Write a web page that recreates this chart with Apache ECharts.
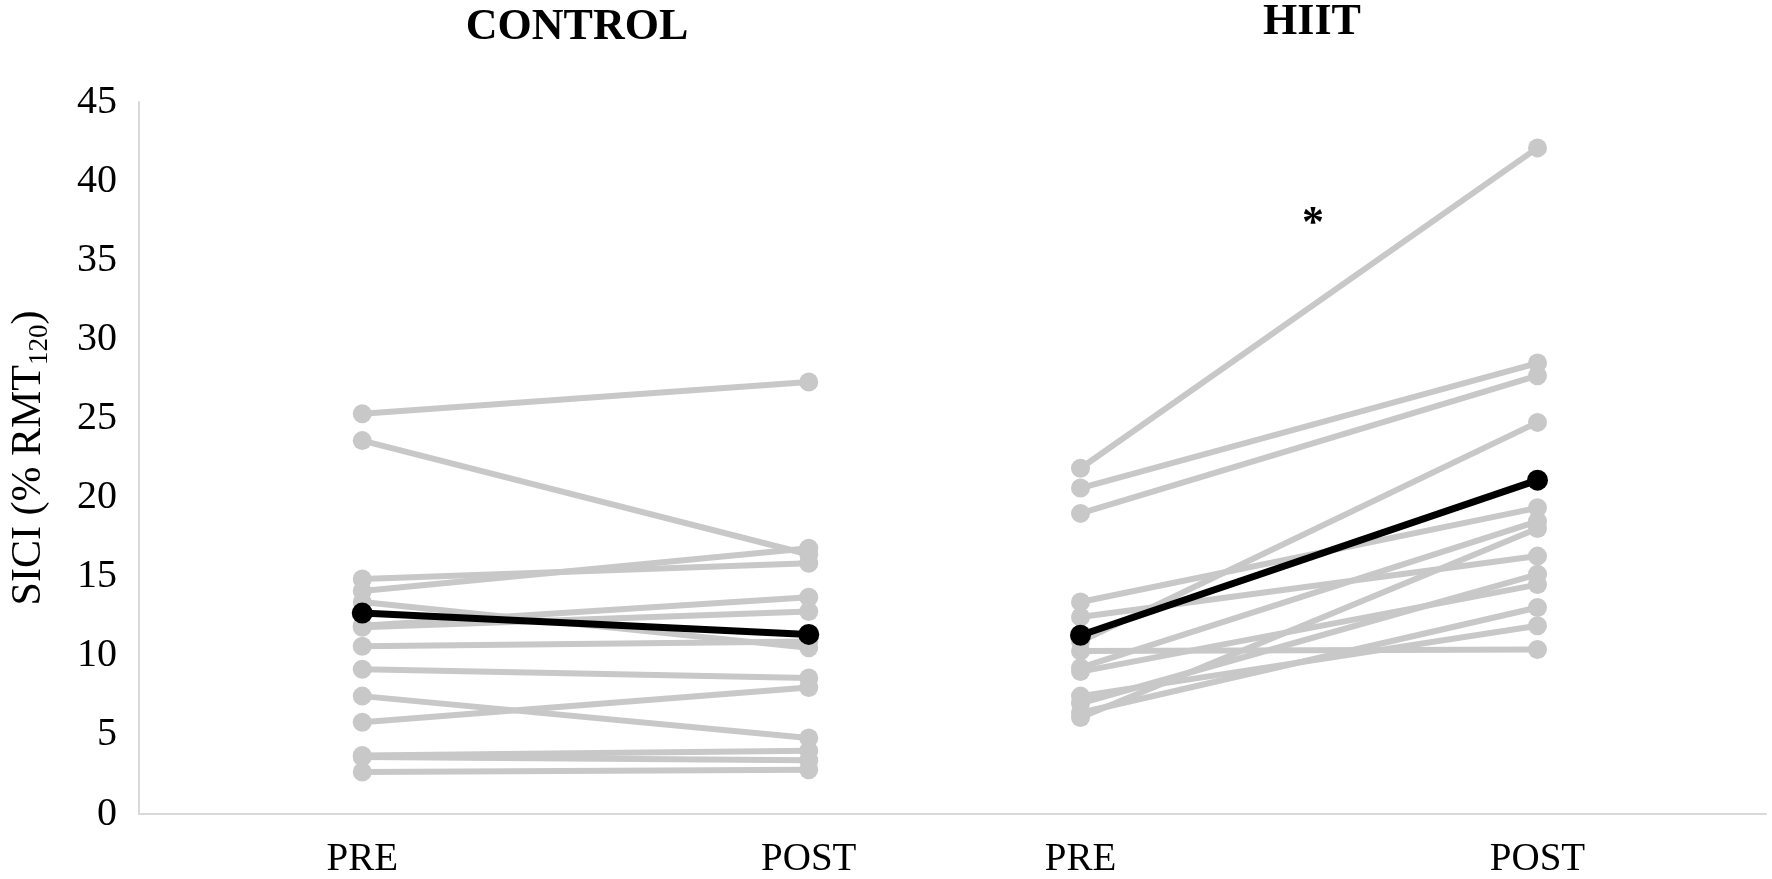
<!DOCTYPE html>
<html>
<head>
<meta charset="utf-8">
<script src="https://cdn.jsdelivr.net/npm/echarts@6/dist/echarts.min.js"></script>
<style>html,body{margin:0;padding:0;background:#fff}#c{width:1772px;height:879px}</style>
</head>
<body>
<div id="c"></div>
<script>
// ---- data ----
var phases = ['PRE', 'POST'];
var yTicks = [0, 5, 10, 15, 20, 25, 30, 35, 40, 45];
var controlPre  = [25.3, 23.6, 14.85, 14.1, 13.4, 11.9, 11.8, 10.6, 9.15, 7.45, 5.8, 3.7, 3.6, 2.65];
var controlPost = [27.3, 16.4, 15.85, 16.8, 10.5, 13.7, 12.8, 10.9, 8.6, 4.8, 8.0, 4.0, 3.4, 2.8];
var controlMean = [12.7, 11.35];
var hiitPre  = [21.85, 20.6, 19.0, 13.4, 12.45, 10.9, 10.3, 9.25, 9.0, 7.45, 7.0, 6.4, 6.1];
var hiitPost = [42.1, 28.5, 27.7, 19.35, 16.3, 24.75, 10.4, 18.5, 14.5, 11.9, 15.15, 13.05, 18.05];
var hiitMean = [11.3, 21.1];
var groupTitles = ['CONTROL', 'HIIT'];

var FONT = '"Liberation Serif", "Times New Roman", serif';
var GRAY = '#c8c8c8';
var AXIS = '#d9d9d9';

function indivSeries(pre, post, gi) {
  return pre.map(function (p, i) {
    return {
      type: 'line', xAxisIndex: gi, yAxisIndex: gi,
      data: [p, post[i]],
      symbol: 'circle', symbolSize: 19,
      lineStyle: { color: GRAY, width: 6 },
      itemStyle: { color: GRAY },
      silent: true, animation: false, z: 2
    };
  });
}
function meanSeries(m, gi) {
  return {
    type: 'line', xAxisIndex: gi, yAxisIndex: gi,
    data: m, symbol: 'circle', symbolSize: 21,
    lineStyle: { color: '#000', width: 7 },
    itemStyle: { color: '#000' },
    silent: true, animation: false, z: 5
  };
}

var xAxisBase = {
  type: 'category', data: phases, boundaryGap: true,
  axisLine: { show: true, lineStyle: { color: AXIS, width: 2 } },
  axisTick: { show: false },
  axisLabel: { color: '#000', fontFamily: FONT, fontSize: 39, margin: 26 },
  splitLine: { show: false }
};
var yAxisBase = {
  type: 'value', min: 0, max: 45, interval: 5,
  axisTick: { show: false }, splitLine: { show: false }
};

var chart = echarts.init(document.getElementById('c'));
chart.setOption({
  backgroundColor: '#fff',
  animation: false,
  grid: [
    { left: 130, top: 102, width: 902, height: 715 },
    { left: 852, top: 102, width: 914, height: 715 }
  ],
  xAxis: [
    Object.assign({ gridIndex: 0 }, xAxisBase),
    Object.assign({ gridIndex: 1 }, xAxisBase)
  ],
  yAxis: [
    Object.assign({ gridIndex: 0 }, yAxisBase, {
      axisLine: { show: true, lineStyle: { color: AXIS, width: 2 } },
      axisLabel: {
        color: '#000', fontFamily: FONT, fontSize: 40, margin: 22,
        formatter: function (v) { return yTicks.indexOf(v) >= 0 ? String(v) : ''; }
      },
      name: '{a|SICI (% RMT}{s|120}{a|)}',
      nameLocation: 'middle', nameGap: 86, nameRotate: 90,
      nameTextStyle: {
        rich: {
          a: { fontFamily: FONT, fontSize: 42, color: '#000', lineHeight: 48 },
          s: { fontFamily: FONT, fontSize: 27, color: '#000', lineHeight: 24, verticalAlign: 'bottom' }
        }
      }
    }),
    Object.assign({ gridIndex: 1 }, yAxisBase, {
      show: false
    })
  ],
  graphic: [
    { type: 'text', x: 577, y: 28, style: { text: groupTitles[0], font: 'bold 44px ' + FONT, fill: '#000', align: 'center', verticalAlign: 'middle' } },
    { type: 'text', x: 1312, y: 23, style: { text: groupTitles[1], font: 'bold 44px ' + FONT, fill: '#000', align: 'center', verticalAlign: 'middle' } },
    { type: 'text', x: 1313, y: 225, style: { text: '*', font: 'bold 44px ' + FONT, fill: '#000', align: 'center', verticalAlign: 'middle' } }
  ],
  series: [].concat(
    indivSeries(controlPre, controlPost, 0),
    [meanSeries(controlMean, 0)],
    indivSeries(hiitPre, hiitPost, 1),
    [meanSeries(hiitMean, 1)]
  )
});
</script>
</body>
</html>
